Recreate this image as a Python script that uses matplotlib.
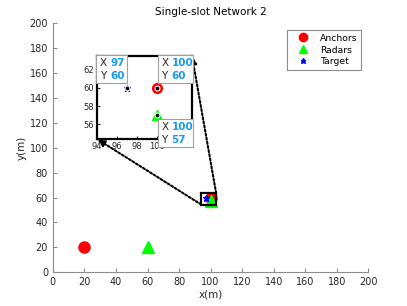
import numpy as np
import matplotlib
matplotlib.use("Agg")
import matplotlib.pyplot as plt
from matplotlib.patches import Rectangle

FS = 7
GRAY = "#262626"
TIPBLUE = "#1a9bf0"
plt.rcParams["font.family"] = "DejaVu Sans"

# data
anchors_x = [20, 100]
anchors_y = [20, 60]
radars_x = [60, 100]
radars_y = [20, 57]
target_x = [97]
target_y = [60]
tips = [(97, 60), (100, 60), (100, 57)]
zoom_xlim = [94, 103.5]
zoom_ylim = [54.4, 63.5]

W, H = 407, 306
fig = plt.figure(figsize=(W / 100, H / 100), dpi=100)
ax = fig.add_axes([0.13, 0.11, 0.775, 0.815])

ax.plot(anchors_x, anchors_y, "o", color="red", ms=8, label="Anchors")
ax.plot(radars_x, radars_y, "^", color="#00ff00", ms=8, label="Radars")
ax.plot(target_x, target_y, "*", color="blue", ms=5, label="Target")

ax.set_xlim(0, 200)
ax.set_ylim(0, 200)
ax.set_xticks(np.arange(0, 201, 20))
ax.set_yticks(np.arange(0, 201, 20))
for s in ["top", "right"]:
    ax.spines[s].set_visible(False)
for s in ["left", "bottom"]:
    ax.spines[s].set_color("#8c8c8c")
ax.tick_params(direction="in", labelsize=FS, colors=GRAY, length=3, color="#8c8c8c")
ax.set_xlabel("x(m)", fontsize=FS + 0.5, color=GRAY, labelpad=2)
ax.set_ylabel("y(m)", fontsize=FS + 0.5, color=GRAY, labelpad=2)
ax.set_title("Single-slot Network 2", fontsize=FS + 0.5, color="black", pad=6)

leg = ax.legend(loc="upper right", bbox_to_anchor=(361 / W, 1 - 30 / H),
                bbox_transform=fig.transFigure, borderaxespad=0, fancybox=False,
                fontsize=FS - 0.3, labelspacing=0.3, handletextpad=0.5, borderpad=0.4,
                edgecolor="#8c8c8c", framealpha=1, handlelength=2.6, markerscale=0.75)
leg.get_frame().set_linewidth(0.8)

# zoom rectangle on the main axes
ax.add_patch(Rectangle((zoom_xlim[0], zoom_ylim[0]), zoom_xlim[1] - zoom_xlim[0],
                       zoom_ylim[1] - zoom_ylim[0], fill=False, ec="black", lw=1.6, zorder=5))

# inset
ins = fig.add_axes([97 / W, 1 - 139 / H, 95 / W, 83 / H])
ins.plot(anchors_x, anchors_y, "o", color="red", ms=7)
ins.plot(radars_x, radars_y, "^", color="#00ff00", ms=7)
ins.plot(target_x, target_y, "*", color="blue", ms=5)
for tx, ty in tips:
    ins.plot(tx, ty, "o", color="black", ms=3.5, mec="white", mew=0.8, zorder=6)
ins.set_xlim(zoom_xlim)
ins.set_ylim(zoom_ylim)
ins.set_xticks([94, 96, 98, 100])
ins.set_yticks([56, 58, 60, 62])
ins.tick_params(direction="in", labelsize=FS - 1, colors=GRAY, length=2, pad=2)
for s in ins.spines.values():
    s.set_color("black")
    s.set_linewidth(1.6)

# dotted arrows from the zoom rectangle to the inset corners
arrows = [((zoom_xlim[0], zoom_ylim[0]), (0, 0)), ((zoom_xlim[1], zoom_ylim[1]), (1, 1))]
for src, dst in arrows:
    ax.annotate("", xy=dst, xycoords=ins.transAxes, xytext=src, textcoords="data",
                arrowprops=dict(arrowstyle="-|>,head_length=0.45,head_width=0.2",
                                linestyle=(0, (1, 1)), lw=1.5, color="black",
                                shrinkA=0, shrinkB=0), zorder=4)

# datatips
fig.canvas.draw()
tip_off = [(-31, 4.5, 31), (0.5, 4.5, 35), (0.5, -32, 35)]
for (tx, ty), (dx, dy, w) in zip(tips, tip_off):
    px, py = ins.transData.transform((tx, ty))
    x0, y0 = px + dx, py + dy
    h = 28
    fig.patches.append(Rectangle((x0 / W, y0 / H), w / W, h / H, transform=fig.transFigure,
                                 fc="white", ec="#a0a0a0", lw=0.8, zorder=20))
    for k, (lab, val) in enumerate([("X", tx), ("Y", ty)]):
        yy = (y0 + h - 8 - 12.5 * k) / H
        fig.text((x0 + 4) / W, yy, lab, fontsize=FS + 0.5, color=GRAY, va="center", zorder=21)
        fig.text((x0 + 14) / W, yy, f"{val}", fontsize=FS + 0.5, color=TIPBLUE,
                 fontweight="bold", va="center", zorder=21)

plt.savefig("out.png", dpi=100)
